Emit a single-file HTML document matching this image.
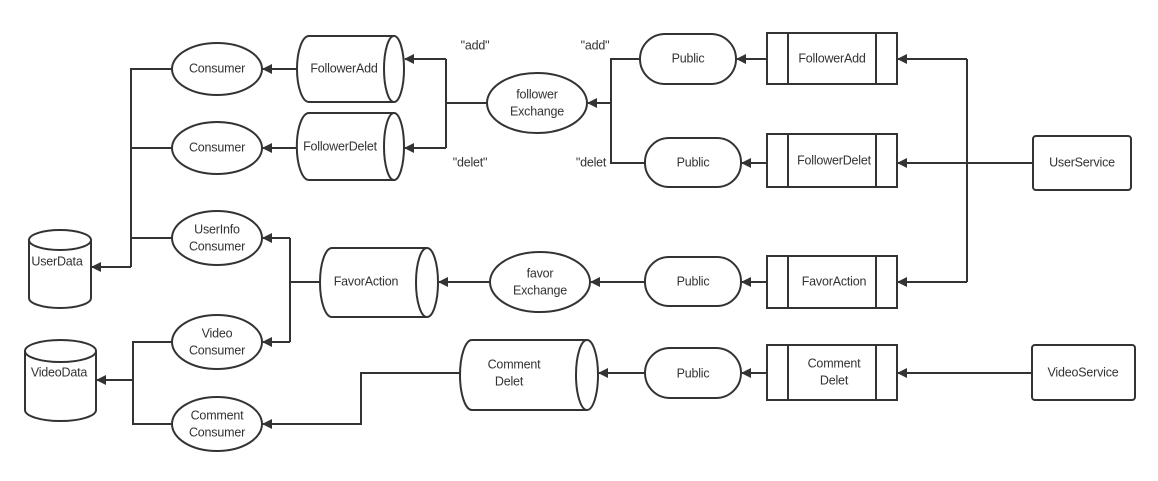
<!DOCTYPE html>
<html><head><meta charset="utf-8"><style>body{margin:0;background:#fff}svg text{font-family:"Liberation Sans",sans-serif;font-size:12.5px;letter-spacing:-0.2px;fill:#333;text-anchor:middle;dominant-baseline:middle}</style></head>
<body>
<svg width="1158" height="476" viewBox="0 0 1158 476" xmlns="http://www.w3.org/2000/svg">
<defs><marker id="a" markerWidth="10" markerHeight="10" refX="9" refY="5" orient="auto" markerUnits="userSpaceOnUse"><path d="M0,0 L10,5 L0,10 z" fill="#333"/></marker></defs>
<g fill="none" stroke="#333" stroke-width="2">
<path d="M1033,163 H967 M967,59 V282"/>
<path d="M967,59 H898" marker-end="url(#a)"/>
<path d="M967,163 H898" marker-end="url(#a)"/>
<path d="M967,282 H898" marker-end="url(#a)"/>
<path d="M1032,373 H898" marker-end="url(#a)"/>
<path d="M767,59 H737" marker-end="url(#a)"/>
<path d="M767,163 H742" marker-end="url(#a)"/>
<path d="M767,282 H742" marker-end="url(#a)"/>
<path d="M767,373 H742" marker-end="url(#a)"/>
<path d="M640,59 H611 V163 H645"/>
<path d="M611,103 H588" marker-end="url(#a)"/>
<path d="M487,103 H446 M446,59 V148"/>
<path d="M446,59 H405" marker-end="url(#a)"/>
<path d="M446,148 H405" marker-end="url(#a)"/>
<path d="M297,69 H263" marker-end="url(#a)"/>
<path d="M297,148 H263" marker-end="url(#a)"/>
<path d="M172,69 H131 V267 M172,148 H131 M172,238 H131"/>
<path d="M131,267 H92" marker-end="url(#a)"/>
<path d="M645,282 H591" marker-end="url(#a)"/>
<path d="M490,282 H439" marker-end="url(#a)"/>
<path d="M320,282 H290 M290,238 V342"/>
<path d="M290,238 H263" marker-end="url(#a)"/>
<path d="M290,342 H263" marker-end="url(#a)"/>
<path d="M645,373 H599" marker-end="url(#a)"/>
<path d="M460,373 H361 V424 H263" marker-end="url(#a)"/>
<path d="M172,342 H133 V424 H172 M133,380 H97" marker-end="url(#a)"/>
</g>
<g fill="#fff" stroke="#333" stroke-width="2">
<ellipse cx="217" cy="69" rx="45" ry="26"/>
<ellipse cx="217" cy="148" rx="45" ry="26"/>
<ellipse cx="217" cy="238" rx="45" ry="27"/>
<ellipse cx="217" cy="342" rx="45" ry="27"/>
<ellipse cx="217" cy="424" rx="45" ry="27"/>
<ellipse cx="537" cy="103" rx="50" ry="30"/>
<ellipse cx="540" cy="282" rx="50" ry="30"/>
<path d="M394,36 H309 A12,33 0 0 0 309,102 H394"/><ellipse cx="394" cy="69" rx="10" ry="33"/>
<path d="M394,113 H309 A12,33 0 0 0 309,180 H394"/><ellipse cx="394" cy="146.5" rx="10" ry="33.5"/>
<path d="M427,248 H332 A12,34.5 0 0 0 332,317 H427"/><ellipse cx="427" cy="282.5" rx="11" ry="34.5"/>
<path d="M587,340 H472 A12,35 0 0 0 472,410 H587"/><ellipse cx="587" cy="375" rx="11" ry="35"/>
<path d="M29,240 V298 A31,10 0 0 0 91,298 V240"/><ellipse cx="60" cy="240" rx="31" ry="10"/>
<path d="M25,351 V410 A35.5,11 0 0 0 96,410 V351"/><ellipse cx="60.5" cy="351" rx="35.5" ry="11"/>
<rect x="640" y="34" width="96" height="50" rx="25"/>
<rect x="645" y="138" width="96" height="49" rx="24"/>
<rect x="645" y="257" width="96" height="49" rx="24"/>
<rect x="645" y="348" width="96" height="50" rx="25"/>
<rect x="767" y="33" width="130" height="51"/><path d="M788,33 V84 M876,33 V84"/>
<rect x="767" y="134" width="130" height="53"/><path d="M788,134 V187 M876,134 V187"/>
<rect x="767" y="256" width="130" height="52"/><path d="M788,256 V308 M876,256 V308"/>
<rect x="767" y="345" width="130" height="55"/><path d="M788,345 V400 M876,345 V400"/>
<rect x="1033" y="136" width="98" height="54" rx="3"/>
<rect x="1032" y="345" width="103" height="55" rx="3"/>
</g>
<g>
<text x="217" y="69">Consumer</text>
<text x="217" y="148">Consumer</text>
<text x="217" y="230">UserInfo</text><text x="217" y="247">Consumer</text>
<text x="217" y="334">Video</text><text x="217" y="351">Consumer</text>
<text x="217" y="416">Comment</text><text x="217" y="433">Consumer</text>
<text x="537" y="95">follower</text><text x="537" y="112">Exchange</text>
<text x="540" y="274">favor</text><text x="540" y="291">Exchange</text>
<text x="344" y="69">FollowerAdd</text>
<text x="340" y="147">FollowerDelet</text>
<text x="366" y="282">FavorAction</text>
<text x="514" y="365">Comment</text><text x="509" y="382">Delet</text>
<text x="57" y="262">UserData</text>
<text x="59" y="373">VideoData</text>
<text x="475" y="46">"add"</text><text x="595" y="46">"add"</text>
<text x="470" y="163">"delet"</text><text x="591" y="163">"delet</text>
<text x="688" y="59">Public</text>
<text x="693" y="163">Public</text>
<text x="693" y="282">Public</text>
<text x="693" y="374">Public</text>
<text x="832" y="59">FollowerAdd</text>
<text x="834" y="161">FollowerDelet</text>
<text x="834" y="282">FavorAction</text>
<text x="834" y="364">Comment</text><text x="834" y="381">Delet</text>
<text x="1082" y="163">UserService</text>
<text x="1083" y="373">VideoService</text>
</g>
</svg>
</body></html>
